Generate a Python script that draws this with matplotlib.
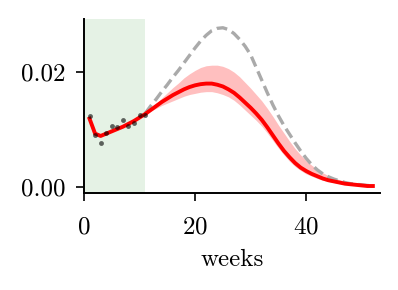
import numpy as np
import matplotlib
matplotlib.use("Agg")
import matplotlib.pyplot as plt

plt.rcParams["font.family"] = "serif"
plt.rcParams["font.serif"] = ["cmr10"]
plt.rcParams["mathtext.fontset"] = "cm"
plt.rcParams["axes.formatter.use_mathtext"] = True
plt.rcParams["font.size"] = 18

# observed weekly values (weeks 1..11)
obs_weeks = np.arange(1, 12)
obs = [0.0123, 0.0090, 0.0077, 0.0094, 0.0106, 0.0105, 0.0116, 0.0106, 0.0112, 0.0126, 0.0125]

# model fit, weeks 1..52
weeks = np.arange(1, 53)
fit = [0.0119, 0.0093, 0.0089, 0.0093, 0.0097, 0.0101, 0.0105, 0.0110, 0.0115, 0.0121,
       0.0127, 0.0134, 0.0141, 0.0148, 0.0154, 0.0160, 0.0165, 0.0170, 0.0174, 0.0177,
       0.0179, 0.0180, 0.0180, 0.0178, 0.0175, 0.0170, 0.0164, 0.0156, 0.0147, 0.0138,
       0.0128, 0.0117, 0.0104, 0.0090, 0.0076, 0.0063, 0.0052, 0.0042, 0.0034, 0.0028,
       0.0023, 0.0019, 0.0015, 0.0012, 0.0010, 0.0008, 0.0006, 0.0005, 0.0004, 0.0003,
       0.0002, 0.0002]

# forecast band and unmitigated curve, weeks 11..52
fc_weeks = np.arange(11, 53)
upper = [0.0127, 0.0136, 0.0145, 0.0155, 0.0164, 0.0173, 0.0181, 0.0190, 0.0197, 0.0203,
         0.0208, 0.0211, 0.0212, 0.0212, 0.0210, 0.0206, 0.0200, 0.0192, 0.0182, 0.0172,
         0.0161, 0.0150, 0.0137, 0.0123, 0.0108, 0.0094, 0.0080, 0.0067, 0.0056, 0.0046,
         0.0038, 0.0031, 0.0025, 0.0020, 0.0016, 0.0013, 0.0010, 0.0008, 0.0006, 0.0005,
         0.0004, 0.0003]
lower = [0.0127, 0.0132, 0.0137, 0.0142, 0.0146, 0.0150, 0.0154, 0.0158, 0.0161, 0.0163,
         0.0165, 0.0166, 0.0166, 0.0164, 0.0161, 0.0157, 0.0151, 0.0143, 0.0134, 0.0125,
         0.0116, 0.0106, 0.0094, 0.0081, 0.0068, 0.0056, 0.0045, 0.0036, 0.0029, 0.0023,
         0.0019, 0.0015, 0.0012, 0.0010, 0.0008, 0.0006, 0.0005, 0.0004, 0.0003, 0.0002,
         0.0002, 0.0001]
baseline = [0.0128, 0.0141, 0.0153, 0.0166, 0.0178, 0.0191, 0.0203, 0.0216, 0.0229, 0.0242,
            0.0254, 0.0264, 0.0272, 0.0276, 0.0277, 0.0274, 0.0267, 0.0257, 0.0245, 0.0230,
            0.0208, 0.0186, 0.0164, 0.0143, 0.0124, 0.0107, 0.0092, 0.0077, 0.0063, 0.0050,
            0.0039, 0.0030, 0.0023, 0.0018, 0.0014, 0.0011, 0.0008, 0.0006, 0.0005, 0.0004,
            0.0003, 0.0002]

fig = plt.figure(figsize=(3.98, 2.9), dpi=100)
ax = fig.add_axes([0.211, 0.334, 0.744, 0.600])

ax.axvspan(0, 11, color="g", alpha=0.1, lw=0)
ax.plot(fc_weeks, baseline, color="#aaaaaa", lw=2.4, dashes=(3.2, 1.6))
ax.fill_between(fc_weeks, lower, upper, color="r", alpha=0.25, lw=0)
ax.plot(weeks, fit, color="r", lw=2.8, solid_joinstyle="round")
ax.plot(obs_weeks, obs, "o", color="k", alpha=0.6, ms=3.5, mew=0)

ax.set_xlim(0, 53.3)
ax.set_ylim(-0.00104, 0.0292)
ax.set_xticks([0, 20, 40])
ax.set_yticks([0.0, 0.02])
ax.set_yticklabels(["0.00", "0.02"])
ax.set_xlabel("weeks", labelpad=8)
for s in ["top", "right"]:
    ax.spines[s].set_visible(False)
for s in ["left", "bottom"]:
    ax.spines[s].set_linewidth(1.4)
ax.tick_params(width=1.2, length=5.5)
ax.tick_params(axis="y", pad=8)
ax.tick_params(axis="x", pad=11)

fig.savefig("out.png", dpi=100)
